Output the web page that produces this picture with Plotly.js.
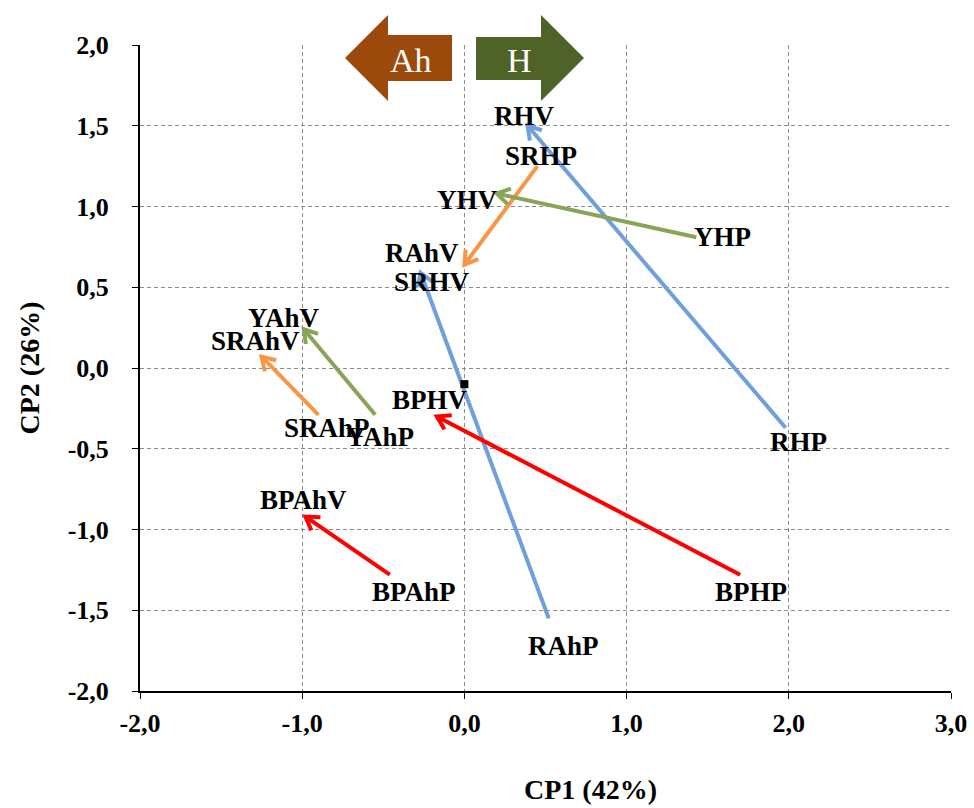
<!DOCTYPE html>
<html>
<head>
<meta charset="utf-8">
<script src="https://cdn.plot.ly/plotly-3.0.1.min.js"></script>
<style>html,body{margin:0;padding:0;background:#fff}#chart{width:974px;height:808px}</style>
</head>
<body>
<div id="chart"></div>
<script>
// Arrow data: start (P) -> end (V)
const arrowNames = ['RH', 'RAh', 'SRH', 'YH', 'YAh', 'SRAh', 'BPH', 'BPAh'];
const startX = [1.98, 0.52, 0.45, 1.43, -0.55, -0.90, 1.70, -0.46];
const startY = [-0.37, -1.55, 1.25, 0.81, -0.29, -0.29, -1.28, -1.28];
const endX = [0.39, -0.27, 0.00, 0.20, -0.99, -1.25, -0.17, -0.98];
const endY = [1.50, 0.59, 0.64, 1.08, 0.24, 0.07, -0.30, -0.92];
const arrowColors = ['#6fa0dc', '#6fa0dc', '#f79646', '#8aa455', '#8aa455', '#f79646', '#ff0000', '#ff0000'];

// Point labels
const labelText = ['RHV', 'SRHP', 'YHV', 'YHP', 'RAhV', 'SRHV', 'YAhV', 'SRAhV', 'BPHV', 'SRAhP', 'YAhP', 'RHP', 'BPAhV', 'BPAhP', 'BPHP', 'RAhP'];
const labelX = [0.37, 0.47, 0.02, 1.59, -0.26, -0.20, -1.11, -1.29, -0.21, -0.85, -0.52, 2.06, -0.99, -0.31, 1.77, 0.61];
const labelY = [1.56, 1.31, 1.04, 0.81, 0.71, 0.53, 0.31, 0.17, -0.20, -0.37, -0.43, -0.46, -0.82, -1.39, -1.39, -1.72];

// Origin marker
const originX = [0.0];
const originY = [-0.1];

const xTicks = [-2, -1, 0, 1, 2, 3];
const xTickText = ['-2,0', '-1,0', '0,0', '1,0', '2,0', '3,0'];
const yTicks = [-2, -1.5, -1, -0.5, 0, 0.5, 1, 1.5, 2];
const yTickText = ['-2,0', '-1,5', '-1,0', '-0,5', '0,0', '0,5', '1,0', '1,5', '2,0'];

const W = 974, H = 808;
const margin = {l: 140, r: 23, t: 45, b: 117};
const xRange = [-2, 3], yRange = [-2, 2];
const pxPerX = (W - margin.l - margin.r) / (xRange[1] - xRange[0]);
const pxPerY = (H - margin.t - margin.b) / (yRange[1] - yRange[0]);

const traces = [];
const headLen = 15, headAng = 32 * Math.PI / 180;
for (let i = 0; i < arrowNames.length; i++) {
  const dx = (endX[i] - startX[i]) * pxPerX;
  const dy = (endY[i] - startY[i]) * pxPerY;
  const a = Math.atan2(dy, dx);
  const w1x = endX[i] - headLen * Math.cos(a - headAng) / pxPerX;
  const w1y = endY[i] - headLen * Math.sin(a - headAng) / pxPerY;
  const w2x = endX[i] - headLen * Math.cos(a + headAng) / pxPerX;
  const w2y = endY[i] - headLen * Math.sin(a + headAng) / pxPerY;
  traces.push({
    type: 'scatter', mode: 'lines', showlegend: false, hoverinfo: 'skip',
    x: [startX[i], endX[i], null, w1x, endX[i], w2x],
    y: [startY[i], endY[i], null, w1y, endY[i], w2y],
    line: {color: arrowColors[i], width: 4}
  });
}
traces.push({
  type: 'scatter', mode: 'markers', showlegend: false,
  x: originX, y: originY,
  marker: {symbol: 'square', size: 8, color: '#000'}
});

const annotations = labelText.map((t, i) => ({
  x: labelX[i], y: labelY[i], xref: 'x', yref: 'y', text: '<b>' + t + '</b>',
  showarrow: false, xanchor: 'center', yanchor: 'middle',
  font: {family: 'Liberation Serif, Times New Roman, serif', size: 27, color: '#000'}
}));

const px = v => (v - margin.l) / (W - margin.l - margin.r);
const py = v => (H - margin.b - v) / (H - margin.t - margin.b);
const P = pts => 'M' + pts.map(p => px(p[0]) + ',' + py(p[1])).join(' L') + ' Z';

const shapes = [
  {type: 'path', xref: 'paper', yref: 'paper', fillcolor: '#9b4a0b', line: {width: 0},
   path: P([[345,58],[388,15],[388,35],[452,35],[452,81],[388,81],[388,101]])},
  {type: 'path', xref: 'paper', yref: 'paper', fillcolor: '#4f6228', line: {width: 0},
   path: P([[584,58],[541,15],[541,37],[476,37],[476,80],[541,80],[541,101]])}
];
annotations.push({xref: 'paper', yref: 'paper', x: px(411), y: py(60), text: 'Ah', showarrow: false,
  xanchor: 'center', yanchor: 'middle', font: {family: 'Liberation Serif, serif', size: 34, color: '#fff'}});
annotations.push({xref: 'paper', yref: 'paper', x: px(519), y: py(60), text: 'H', showarrow: false,
  xanchor: 'center', yanchor: 'middle', font: {family: 'Liberation Serif, serif', size: 34, color: '#fff'}});
// x axis title (offset right of plot centre as in the reference)
annotations.push({xref: 'paper', yref: 'paper', x: px(590), y: py(789), text: '<b>CP1 (42%)</b>', showarrow: false,
  xanchor: 'center', yanchor: 'middle', font: {family: 'Liberation Serif, serif', size: 28, color: '#000'}});

const bold = a => a.map(s => '<b>' + s + '</b>');
const tickFont = {family: 'Liberation Serif, Times New Roman, serif', size: 26, color: '#000'};
const layout = {
  width: W, height: H, margin: margin,
  paper_bgcolor: '#fff', plot_bgcolor: '#fff',
  showlegend: false,
  xaxis: {
    range: xRange, tickvals: xTicks, ticktext: bold(xTickText),
    showgrid: true, gridcolor: '#8c8c8c', gridwidth: 1, griddash: '4px,3px',
    zeroline: false, showline: true, linecolor: '#000', linewidth: 2,
    ticks: 'outside', ticklen: 6, tickcolor: '#000', tickwidth: 1,
    tickfont: tickFont, ticklabelstandoff: 2
  },
  yaxis: {
    range: yRange, tickvals: yTicks, ticktext: bold(yTickText),
    showgrid: true, gridcolor: '#8c8c8c', gridwidth: 1, griddash: '4px,3px',
    zeroline: false, showline: true, linecolor: '#000', linewidth: 2,
    ticks: 'outside', ticklen: 6, tickcolor: '#000', tickwidth: 1,
    tickfont: tickFont, ticklabelstandoff: 18,
    title: {text: '<b>CP2 (26%)</b>', font: {family: 'Liberation Serif, serif', size: 28, color: '#000'}, standoff: 20}
  },
  shapes: shapes,
  annotations: annotations
};

Plotly.newPlot('chart', traces, layout, {displayModeBar: false, staticPlot: true});
</script>
</body>
</html>
